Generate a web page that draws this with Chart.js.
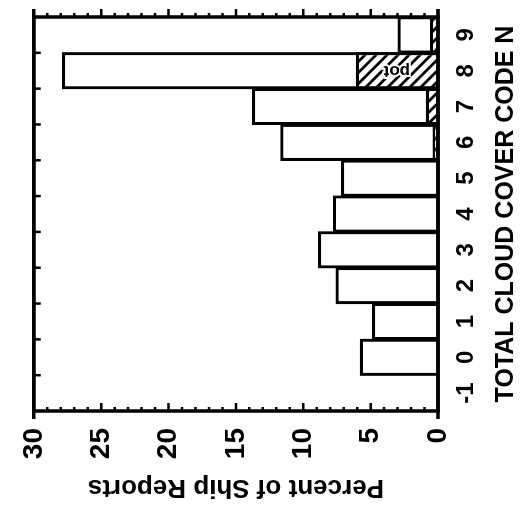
<!DOCTYPE html>
<html>
<head>
<meta charset="utf-8">
<script src="https://cdn.jsdelivr.net/npm/chart.js@4.4.1/dist/chart.umd.min.js"></script>
<style>
  html, body { margin: 0; padding: 0; background: #fff; }
  #stage { position: relative; width: 526px; height: 508px; overflow: hidden; background: #fff; }
  /* the figure is drawn upright (508 x 526) and turned a quarter left, like the scan */
  #turn { position: absolute; left: 0; top: 0; width: 508px; height: 526px;
          transform-origin: 0 0; transform: translateY(508px) rotate(-90deg); }
</style>
</head>
<body>
<div id="stage"><div id="turn"><canvas id="cloudChart" width="508" height="526"></canvas></div></div>
<script>
// ── DATA ─────────────────────────────────────────────────────
const cloudCodes  = ["-1", "0", "1", "2", "3", "4", "5", "6", "7", "8", "9"];
const totalPct    = [0, 5.8, 4.9, 7.6, 8.9, 7.8, 7.2, 11.7, 13.8, 27.9, 3.0];
const hatchedPct  = [0, 0,   0,   0,   0,   0,   0,   0.4,  0.9,  6.1,  0.6];
const valueTicks  = [0, 5, 10, 15, 20, 25, 30];
const hatchNote   = "pot";   // written inside the hatched part of code 8
const noteCode    = "8";

// ── HELPERS ──────────────────────────────────────────────────
const FONT = "'Liberation Sans', Arial, Helvetica, sans-serif";

function makeHatch(ctx) {
  const s = 11;
  const tile = document.createElement("canvas");
  tile.width = tile.height = s;
  const c = tile.getContext("2d");
  c.fillStyle = "#fff";
  c.fillRect(0, 0, s, s);
  c.strokeStyle = "#000";
  c.lineWidth = 2.8;
  c.beginPath();
  for (const o of [-s, 0, s]) { c.moveTo(o - 1, -1); c.lineTo(o + s + 1, s + 1); }
  c.stroke();
  return ctx.createPattern(tile, "repeat");
}

// frame, minor/major ticks and the small note, all placed off the chart's scales
const frameAndTicks = {
  id: "frameAndTicks",
  afterDatasetsDraw(chart) {
    const { ctx, chartArea: a, scales: { x, y } } = chart;
    ctx.save();
    ctx.strokeStyle = "#000";
    ctx.lineWidth = 3.5;
    ctx.strokeRect(a.left, a.top, a.right - a.left, a.bottom - a.top);
    ctx.beginPath();
    [a.top, a.bottom].forEach((py) => { ctx.moveTo(a.left - 8, py); ctx.lineTo(a.right + 8, py); });
    ctx.stroke();

    // percent ticks, every 1 with longer ones every 5
    ctx.lineWidth = 2.5;
    ctx.beginPath();
    for (let v = valueTicks[0]; v <= valueTicks[valueTicks.length - 1]; v++) {
      const py = y.getPixelForValue(v);
      const len = v % 5 === 0 ? 8 : 4;
      ctx.moveTo(a.left, py);  ctx.lineTo(a.left + len, py);
      ctx.moveTo(a.right, py); ctx.lineTo(a.right + len, py);
    }
    // code boundaries on the far side
    for (let i = 0; i < cloudCodes.length - 1; i++) {
      const px = (x.getPixelForValue(i) + x.getPixelForValue(i + 1)) / 2;
      ctx.moveTo(px, a.top); ctx.lineTo(px, a.top + 7);
    }
    ctx.stroke();

    // note inside the hatched bar
    const el = chart.getDatasetMeta(0).data[cloudCodes.indexOf(noteCode)];
    if (el) {
      ctx.translate(el.x, (el.y + el.base) / 2);
      ctx.rotate(-Math.PI / 2);
      ctx.font = `bold 17px ${FONT}`;
      ctx.textAlign = "center";
      ctx.textBaseline = "middle";
      ctx.lineWidth = 4;
      ctx.strokeStyle = "#fff";
      ctx.strokeText(hatchNote, 0, 0);
      ctx.fillStyle = "#000";
      ctx.fillText(hatchNote, 0, 0);
    }
    ctx.restore();
  },
};

// ── CHART ────────────────────────────────────────────────────
function renderChart() {
  const ctx = document.getElementById("cloudChart").getContext("2d");
  const hatch = makeHatch(ctx);
  const barStyle = {
    borderColor: "#000",
    borderWidth: 3.2,
    grouped: false,
    categoryPercentage: 1,
    barPercentage: 1.04,
  };

  new Chart(ctx, {
    type: "bar",
    data: {
      labels: cloudCodes,
      datasets: [
        { ...barStyle, label: "hatched", data: hatchedPct, backgroundColor: hatch, order: 0 },
        { ...barStyle, label: "all", data: totalPct, backgroundColor: "#fff", order: 1 },
      ],
    },
    options: {
      responsive: false,
      animation: false,
      devicePixelRatio: 1,
      layout: { padding: { top: 29, right: 17, left: 0, bottom: 0 } },
      plugins: { legend: { display: false }, tooltip: { enabled: false } },
      scales: {
        x: {
          grid: { display: false, drawTicks: false },
          border: { display: false },
          ticks: { color: "#000", padding: 14, autoSkip: false, maxRotation: 0,
                   font: { family: FONT, size: 24, weight: "bold" } },
          title: { display: true, text: "TOTAL CLOUD COVER CODE N", color: "#000",
                   padding: { top: 0, bottom: 5 },
                   font: { family: FONT, size: 25, weight: "bold" } },
          afterFit: (s) => { s.height = 88; },
        },
        y: {
          min: valueTicks[0],
          max: valueTicks[valueTicks.length - 1],
          afterBuildTicks: (s) => { s.ticks = valueTicks.map((v) => ({ value: v })); },
          grid: { display: false, drawTicks: false },
          border: { display: false },
          ticks: { color: "#000", padding: 17,
                   font: { family: FONT, size: 28, weight: "bold" } },
          title: { display: true, text: "Percent of Ship Reports", color: "#000",
                   padding: { top: 5, bottom: 0 },
                   font: { family: FONT, size: 26, weight: "bold" } },
          afterFit: (s) => { s.width = 97; },
        },
      },
    },
    plugins: [frameAndTicks],
  });
}

document.addEventListener("DOMContentLoaded", renderChart);
</script>
</body>
</html>
